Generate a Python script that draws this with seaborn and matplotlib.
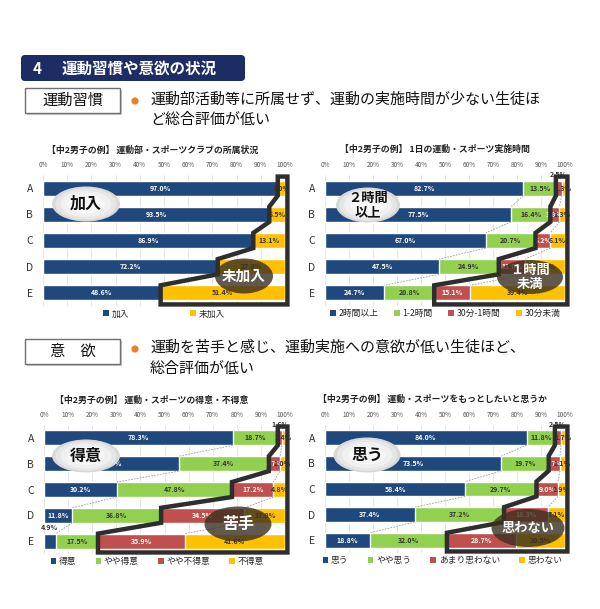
import matplotlib
matplotlib.use('Agg')
import matplotlib.pyplot as plt
import seaborn as sns
import numpy as np
import pandas as pd
from matplotlib.patches import Patch, Ellipse, FancyBboxPatch, Rectangle, Polygon, Circle

sns.set_theme(style='white')
plt.rcParams['font.family'] = ['Noto Sans CJK JP', 'DejaVu Sans']

rows = ['A', 'B', 'C', 'D', 'E']
ticks = list(range(0, 101, 10))
tick_labels = [f"{t}%" for t in ticks]

# Chart 1
c1_title = '【中2男子の例】 運動部・スポーツクラブの所属状況'
c1_names = ['加入', '未加入']
c1_join = [97.0, 93.5, 86.9, 72.2, 48.6]
c1_notjoin = [3.0, 6.5, 13.1, 27.8, 51.4]

# Chart 2
c2_title = '【中2男子の例】 1日の運動・スポーツ実施時間'
c2_names = ['2時間以上', '1-2時間', '30分-1時間', '30分未満']
c2_over2h = [82.7, 77.5, 67.0, 47.5, 24.7]
c2_1to2h = [13.5, 16.4, 20.7, 24.9, 20.8]
c2_30to60 = [2.5, 3.8, 6.2, 11.0, 15.1]
c2_under30 = [1.3, 2.3, 6.1, 16.6, 39.4]

# Chart 3
c3_title = '【中2男子の例】 運動・スポーツの得意・不得意'
c3_names = ['得意', 'やや得意', 'やや不得意', '不得意']
c3_good = [78.3, 55.9, 30.2, 11.8, 4.9]
c3_sgood = [18.7, 37.4, 47.8, 36.8, 17.5]
c3_sbad = [1.6, 4.7, 17.2, 34.5, 35.9]
c3_bad = [1.4, 2.0, 4.8, 17.0, 41.6]

# Chart 4
c4_title = '【中2男子の例】 運動・スポーツをもっとしたいと思うか'
c4_names = ['思う', 'やや思う', 'あまり思わない', '思わない']
c4_yes = [84.0, 73.5, 58.4, 37.4, 18.8]
c4_syes = [11.8, 19.7, 29.7, 37.2, 32.0]
c4_sno = [2.5, 4.7, 9.0, 18.3, 28.7]
c4_no = [1.7, 2.1, 2.9, 7.1, 20.5]

NAVY = '#1F497D'
GREEN = '#92D050'
RED = '#C0504D'
GOLD = '#FFC000'

W, H = 600, 609
fig = plt.figure(figsize=(W / 100, H / 100), dpi=100)
fig.patch.set_facecolor('white')


def add_ax(L, R, T, B):
    return fig.add_axes([L / W, 1 - B / H, (R - L) / W, (B - T) / H])


BH = 0.58


def draw(ax, names, series, colors, tcolors, leg_x, leg_cs):
    df = pd.DataFrame({n: s for n, s in zip(names, series)}, index=rows)
    cum = df.cumsum(axis=1)
    n = len(names)
    for k in range(n - 1, -1, -1):
        sns.barplot(x=cum.iloc[:, k].values, y=rows, color=colors[k], orient='h',
                    width=BH, ax=ax, saturation=1, errorbar=None, zorder=2)
    h = BH / 2
    # series lines
    for k in range(n - 1):
        for i in range(len(rows) - 1):
            ax.plot([cum.iloc[i, k], cum.iloc[i + 1, k]], [i + h, i + 1 - h],
                    color='#9A9A9A', lw=0.6, ls=(0, (2, 1.5)), zorder=3)
    # value labels
    for i in range(len(rows)):
        for k in range(n):
            v = df.iloc[i, k]
            c = cum.iloc[i, k] - v / 2
            y = i
            if (v < 3 and k != n - 1) or (v < 5 and k == 0 and n > 2):
                y = i - h - 0.22
                col = '#333333'
            else:
                col = tcolors[k]
            ax.text(c, y, f"{v:.1f}%", ha='center', va='center', fontsize=5.0,
                    color=col, fontweight='bold', zorder=4, clip_on=False)
    ax.set_xlim(0, 100)
    ax.set_ylim(len(rows) - 0.5, -0.5)
    ax.xaxis.tick_top()
    ax.set_xticks(ticks)
    ax.set_xticklabels(tick_labels)
    ax.tick_params(axis='x', length=0, labelsize=4.6, colors='#555555', pad=4)
    ax.tick_params(axis='y', length=0, labelsize=7.5, colors='#333333', pad=7)
    ax.set_xlabel('')
    ax.set_ylabel('')
    for s in ax.spines.values():
        s.set_visible(False)
    ax.grid(axis='x', color='#DCDCDC', lw=0.5)
    ax.grid(axis='y', visible=False)
    ax.set_axisbelow(True)
    handles = [Patch(facecolor=c, edgecolor='none') for c in colors]
    ax.legend(handles, names, loc='center', bbox_to_anchor=(leg_x, -0.06), ncol=n,
              frameon=False, fontsize=6.3, handlelength=0.65, handleheight=0.65,
              handletextpad=0.3, columnspacing=leg_cs, borderaxespad=0)
    # outline polygon around last two segments
    b = cum.iloc[:, n - 3] if n > 2 else cum.iloc[:, 0]
    pad = 0.15
    pts = [(b.iloc[0], -h - pad), (b.iloc[0], h)]
    for i in range(1, len(rows)):
        pts.append((b.iloc[i], i - h))
        if i < len(rows) - 1:
            pts.append((b.iloc[i], i + h))
        else:
            pts.append((b.iloc[i], i + h + pad))
    pts.append((101.0, len(rows) - 1 + h + pad))
    pts.append((101.0, -h - pad))
    ax.add_patch(Polygon(pts, closed=True, fill=False, ec='#2E2E2E', lw=3.2,
                         joinstyle='miter', clip_on=False, zorder=6))


ax1 = add_ax(43, 285, 175, 306)
draw(ax1, c1_names, [c1_join, c1_notjoin], [NAVY, GOLD], ['white', '#333333'], 0.5, 7)
ax2 = add_ax(325, 565, 175, 306)
draw(ax2, c2_names, [c2_over2h, c2_1to2h, c2_30to60, c2_under30],
     [NAVY, GREEN, RED, GOLD], ['white', '#333333', 'white', '#333333'], 0.5, 1.8)
ax3 = add_ax(44, 285, 425, 554)
draw(ax3, c3_names, [c3_good, c3_sgood, c3_sbad, c3_bad],
     [NAVY, GREEN, RED, GOLD], ['white', '#333333', 'white', '#333333'], 0.47, 2.2)
ax4 = add_ax(325, 565, 425, 553)
draw(ax4, c4_names, [c4_yes, c4_syes, c4_sno, c4_no],
     [NAVY, GREEN, RED, GOLD], ['white', '#333333', 'white', '#333333'], 0.49, 2.2)

# overlay in pixel coordinates
ov = fig.add_axes([0, 0, 1, 1], zorder=10)
ov.set_xlim(0, W)
ov.set_ylim(H, 0)
ov.axis('off')
ov.patch.set_alpha(0)

# banner
ov.add_patch(FancyBboxPatch((21, 55), 224, 26, boxstyle='round,pad=0,rounding_size=4',
                            fc='#1C2D66', ec='none'))
ov.text(33, 68.5, '4', color='white', fontsize=11, fontweight='bold', va='center')
ov.text(62, 68.5, '運動習慣や意欲の状況', color='white', fontsize=11.2, fontweight='bold', va='center')


def section(y0, label, line1, line2, ly1, ly2):
    ov.add_patch(Rectangle((27, y0 + 2), 95, 25, fc='#C8C8C8', ec='none'))
    ov.add_patch(Rectangle((25, y0), 95, 25, fc='white', ec='#707070', lw=1))
    ov.text(72.5, y0 + 12.5, label, ha='center', va='center', fontsize=11, color='#111111')
    ov.add_patch(Circle((135, ly1 + 1), 3.6, fc='#E8822A', ec='none'))
    ov.text(150, ly1, line1, ha='left', va='center', fontsize=10.8, color='#111111')
    ov.text(150, ly2, line2, ha='left', va='center', fontsize=10.8, color='#111111')


section(88, '運動習慣', '運動部活動等に所属せず、運動の実施時間が少ない生徒ほ', 'ど総合評価が低い', 100, 120)
section(339, '意　欲', '運動を苦手と感じ、運動実施への意欲が低い生徒ほど、', '総合評価が低い', 348, 369)

# chart titles
for (x, y, t) in [(153, 150, c1_title), (435, 149, c2_title), (152, 400, c3_title), (432, 399, c4_title)]:
    ov.text(x, y, t, ha='center', va='center', fontsize=6.4, fontweight='bold', color='#222222')


def light_ell(cx, cy, w, h, text, fs):
    for f, c in [(1.0, '#D8D8D8'), (0.9, '#E6E6E6'), (0.75, '#F0F0F0'), (0.55, '#F7F7F7')]:
        ov.add_patch(Ellipse((cx, cy), w * f, h * f, fc=c, ec='none'))
    ov.text(cx, cy, text, ha='center', va='center', fontsize=fs, fontweight='bold',
            color='#111111', linespacing=1.0)


def dark_ell(cx, cy, w, h, text, fs):
    ov.add_patch(Ellipse((cx, cy), w, h, fc='#3A3020', ec='none', alpha=0.8))
    ov.text(cx, cy, text, ha='center', va='center', fontsize=fs, fontweight='bold',
            color='white', linespacing=1.0)


light_ell(86, 204, 68, 35, '加入', 11.5)
dark_ell(244, 276, 58, 35, '未加入', 10.5)
light_ell(368, 205, 64, 35, '２時間\n以上', 9.5)
dark_ell(530, 277, 66, 34, '１時間\n未満', 9.5)
light_ell(86, 456, 68, 33, '得意', 11.5)
dark_ell(238, 524, 67, 35, '苦手', 11.5)
light_ell(367, 455, 67, 35, '思う', 11.5)
dark_ell(528, 528, 73, 38, '思わない', 9.5)

fig.savefig('out.png', dpi=100, facecolor='white')
